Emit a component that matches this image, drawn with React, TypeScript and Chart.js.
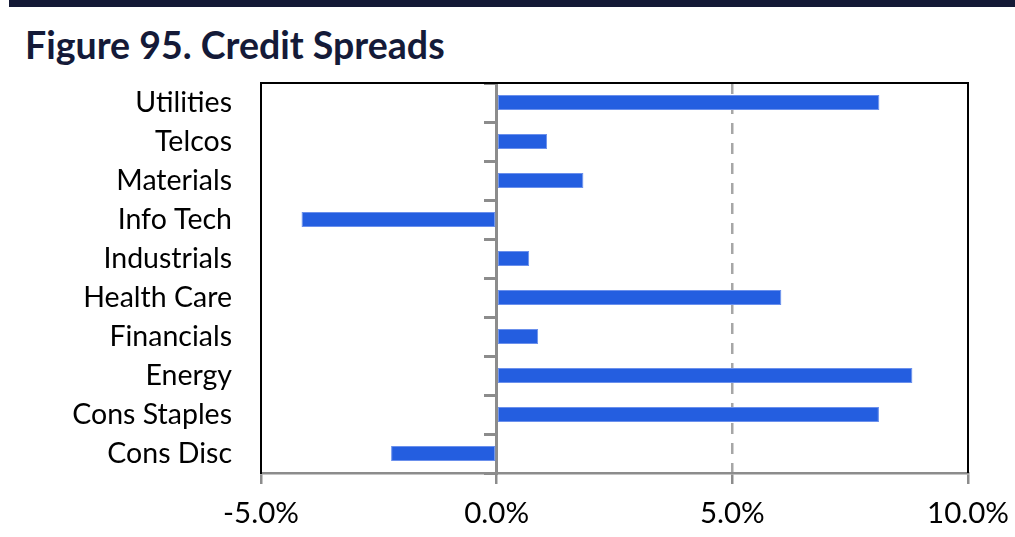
import React, { useEffect, useRef } from "react";
import { Chart, registerables } from "chart.js";

Chart.register(...registerables);

const categories = [
  "Utilities",
  "Telcos",
  "Materials",
  "Info Tech",
  "Industrials",
  "Health Care",
  "Financials",
  "Energy",
  "Cons Staples",
  "Cons Disc",
];
const spreads = [8.12, 1.07, 1.84, -4.14, 0.69, 6.04, 0.88, 8.82, 8.11, -2.24];
const xTickValues = [-5, 0, 5, 10];
const titleText = "Figure 95. Credit Spreads";

const framePlugin = {
  id: "frame",
  afterDraw(chart: any) {
    const { ctx, chartArea } = chart;
    ctx.save();
    ctx.strokeStyle = "#000000";
    ctx.lineWidth = 2;
    ctx.beginPath();
    ctx.moveTo(chartArea.left, chartArea.top);
    ctx.lineTo(chartArea.right, chartArea.top);
    ctx.lineTo(chartArea.right, chartArea.bottom);
    ctx.stroke();
    ctx.restore();
  },
};

export default function App() {
  const ref = useRef<HTMLCanvasElement | null>(null);

  useEffect(() => {
    if (!ref.current) return;
    const font = "Lato";
    const chart = new Chart(ref.current, {
      type: "bar",
      data: {
        labels: categories,
        datasets: [
          {
            data: spreads,
            backgroundColor: "#245ee0",
            borderColor: "#6b90ec",
            borderWidth: 1,
            borderSkipped: false,
            barPercentage: 0.39,
            categoryPercentage: 1,
          },
        ],
      },
      options: {
        indexAxis: "y",
        animation: false,
        responsive: false,
        maintainAspectRatio: false,
        layout: { padding: { top: 83, right: 47, bottom: 0, left: 0 } },
        plugins: {
          legend: { display: false },
          tooltip: { enabled: false },
          title: { display: false },
        },
        scales: {
          x: {
            type: "linear",
            min: -5,
            max: 10,
            afterBuildTicks: (s: any) => {
              s.ticks = xTickValues.map((v) => ({ value: v }));
            },
            afterFit: (s: any) => {
              s.height = 64;
              s.paddingLeft = 0;
              s.paddingRight = 0;
            },
            ticks: {
              color: "#000000",
              font: { family: font, size: 29.5 },
              padding: 12,
              maxRotation: 0,
              callback: (v: any) => Number(v).toFixed(1) + "%",
            },
            grid: {
              drawOnChartArea: true,
              drawTicks: true,
              tickLength: 11,
              tickWidth: 2.5,
              tickColor: "#8c8c8c",
              lineWidth: 2.5,
              color: (c: any) => (c.tick && c.tick.value === 5 ? "#a6a6a6" : "rgba(0,0,0,0)"),
            },
            border: { display: true, color: "#8c8c8c", width: 2.5, dash: [11, 9] },
          },
          y: {
            type: "category",
            position: "left",
            afterFit: (s: any) => {
              s.width = 261;
            },
            ticks: {
              color: "#000000",
              font: { family: font, size: 28.5 },
              padding: 29,
            },
            grid: { display: false, drawTicks: false },
            border: { display: true, color: "#000000", width: 2 },
          },
          y2: {
            type: "category",
            position: { x: 0 } as any,
            offset: true,
            ticks: { display: false },
            grid: {
              offset: true,
              drawOnChartArea: false,
              drawTicks: true,
              tickLength: 11,
              tickWidth: 3,
              tickColor: "#8c8c8c",
              color: "#8c8c8c",
              lineWidth: 3,
            },
            border: { display: true, color: "#8c8c8c", width: 3 },
          },
        },
      },
      plugins: [framePlugin],
    });
    return () => chart.destroy();
  }, []);

  return (
    <div style={{ position: "absolute", left: 0, top: 0, width: 1015, height: 537, background: "#fff", overflow: "hidden" }}>
      <div style={{ position: "absolute", left: 9, top: 0, width: 1006, height: 7, background: "#141a36" }} />
      <div
        style={{
          position: "absolute",
          left: 25,
          top: 23,
          fontFamily: "Lato, sans-serif",
          fontWeight: 700,
          fontSize: 37.5,
          lineHeight: "44px",
          color: "#141a38",
          whiteSpace: "nowrap",
        }}
      >
        {titleText}
      </div>
      <canvas ref={ref} width={1015} height={537} style={{ position: "absolute", left: 0, top: 0, width: 1015, height: 537 }} />
    </div>
  );
}
